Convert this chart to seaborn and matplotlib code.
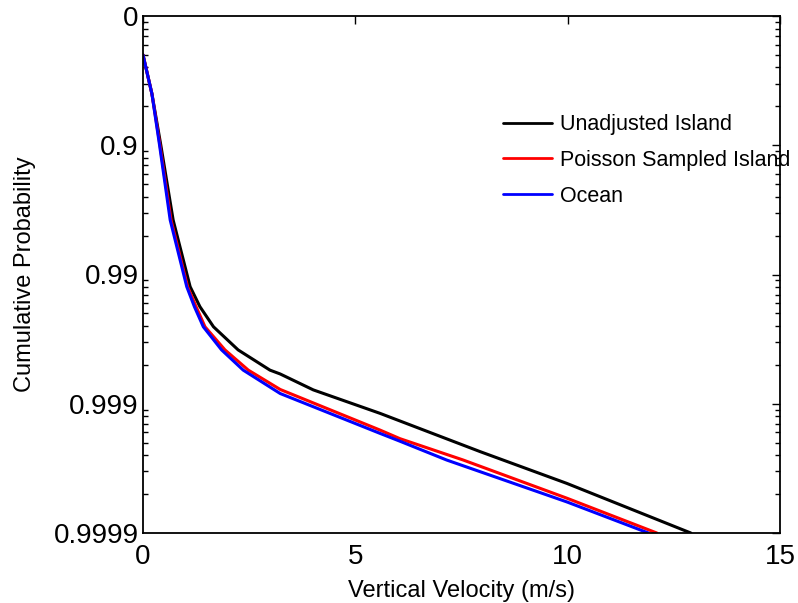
import numpy as np
import pandas as pd
import matplotlib
matplotlib.use("Agg")
import matplotlib.pyplot as plt
import matplotlib.ticker as mticker
import seaborn as sns

# exceedance probability (1 - cumulative probability)
unadjusted_w = [0.0, 0.21, 0.42, 0.71, 1.11, 1.34, 1.66, 2.24, 2.99, 3.23, 4.01, 5.58, 7.94, 9.98, 12.9]
unadjusted_p = [0.5, 0.25, 0.1, 0.0264, 0.00805, 0.00564, 0.00394, 0.00261, 0.00182, 0.0017, 0.00128, 0.000843, 0.000426, 0.000242, 0.0001]

poisson_w = [0.0, 0.21, 0.40, 0.66, 1.05, 1.25, 1.46, 1.93, 2.48, 3.23, 5.58, 6.05, 7.54, 9.98, 12.1]
poisson_p = [0.5, 0.25, 0.1, 0.0264, 0.00805, 0.00564, 0.00394, 0.00261, 0.00182, 0.00129, 0.000626, 0.000537, 0.000367, 0.000186, 0.0001]

ocean_w = [0.0, 0.21, 0.39, 0.64, 1.03, 1.21, 1.42, 1.85, 2.36, 3.23, 5.58, 6.05, 7.15, 9.98, 11.9]
ocean_p = [0.5, 0.25, 0.1, 0.0264, 0.00805, 0.00564, 0.00394, 0.00261, 0.00182, 0.0012, 0.00059, 0.000513, 0.000367, 0.000174, 0.0001]

labels = ["Unadjusted Island", "Poisson Sampled Island", "Ocean"]
colors = ["black", "red", "blue"]

df = pd.concat([
    pd.DataFrame({"w": unadjusted_w, "p": unadjusted_p, "series": labels[0]}),
    pd.DataFrame({"w": poisson_w, "p": poisson_p, "series": labels[1]}),
    pd.DataFrame({"w": ocean_w, "p": ocean_p, "series": labels[2]}),
], ignore_index=True)

sns.set_style("white")
plt.rcParams['font.family'] = ['Liberation Sans', 'DejaVu Sans']
plt.rcParams['text.color'] = 'black'
plt.rcParams['axes.labelcolor'] = 'black'

fig = plt.figure(figsize=(7.98, 6.03), dpi=100)
ax = fig.add_axes([143 / 798, 1 - 533 / 603, 637 / 798, 517 / 603])

sns.lineplot(data=df, x="w", y="p", hue="series", palette=dict(zip(labels, colors)),
             sort=False, estimator=None, linewidth=2.2, ax=ax)

# log axis of (1 - p), 0 at the top, 0.9999 at the bottom
ax.set_yscale("log")
ax.set_ylim(1e-4, 1)
ax.set_xlim(0, 15)
ax.set_xticks([0, 5, 10, 15])
ax.set_yticks([1, 0.1, 0.01, 0.001, 0.0001])
ax.set_yticklabels(["0", "0.9", "0.99", "0.999", "0.9999"])
ax.yaxis.set_minor_locator(mticker.LogLocator(base=10, subs=np.arange(2, 10), numticks=20))
ax.yaxis.set_minor_formatter(mticker.NullFormatter())

ax.tick_params(axis="both", which="major", direction="in", length=6, width=1,
               top=True, right=True, labelsize=20, colors="black")
ax.tick_params(axis="x", which="major", pad=8)
ax.tick_params(axis="y", which="major", pad=3)
ax.tick_params(axis="y", which="minor", direction="in", length=3.5, width=1,
               left=True, right=True, colors="black")
for s in ax.spines.values():
    s.set_linewidth(1.3)
    s.set_color("black")

ax.set_xlabel("Vertical Velocity (m/s)", fontsize=17, color="black")
ax.set_ylabel("Cumulative Probability", fontsize=17, color="black")
ax.xaxis.set_label_coords(0.5, -0.09)
ax.yaxis.set_label_coords(-0.168, 0.5)

leg = ax.legend(loc="upper left", bbox_to_anchor=(0.565, 0.81), frameon=False,
                fontsize=15.5, handlelength=2.3, handletextpad=0.33, labelspacing=0.68,
                borderaxespad=0, borderpad=0)
for line in leg.get_lines():
    line.set_linewidth(2)
for t in leg.get_texts():
    t.set_color("black")

fig.savefig("out.png", dpi=100)
